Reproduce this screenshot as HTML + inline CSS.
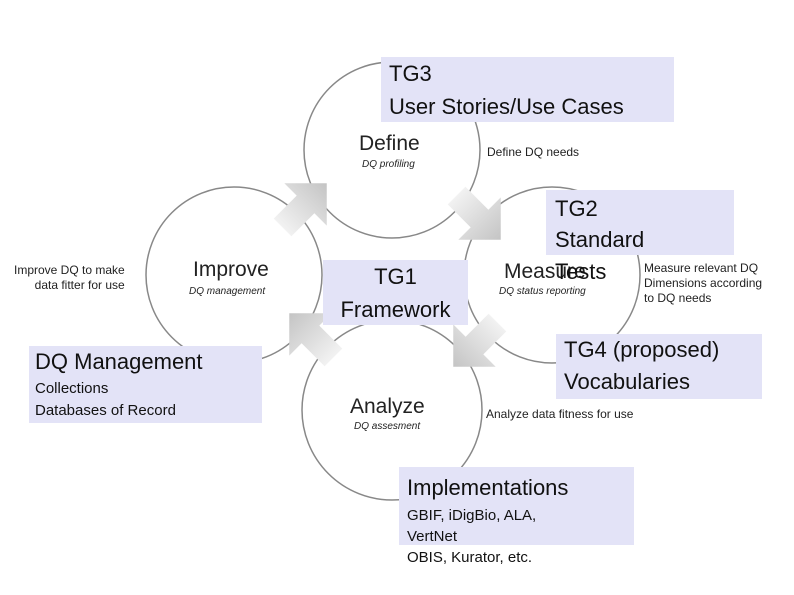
<!DOCTYPE html>
<html><head><meta charset="utf-8"><style>
body{margin:0;width:794px;height:595px;background:#fff;position:relative;overflow:hidden;font-family:"Liberation Sans",Arial,sans-serif}
.b{position:absolute;background:#e3e3f7;color:#111;white-space:nowrap}
.t{position:absolute;white-space:nowrap;color:#222}
</style></head><body>
<svg width="794" height="595" style="position:absolute;left:0;top:0">
<defs><linearGradient id="g" x1="0" y1="0" x2="1" y2="0"><stop offset="0" stop-color="#f2f2f2"/><stop offset="1" stop-color="#c4c4c4"/></linearGradient></defs>
<g fill="none" stroke="#888" stroke-width="1.5">
<circle cx="392" cy="150" r="88"/>
<circle cx="234" cy="275" r="88"/>
<circle cx="552" cy="275" r="88"/>
<circle cx="392" cy="410" r="90"/>
</g>
<g fill="url(#g)">
<path d="M-22,-10 L4,-10 L4,-24 L28,0 L4,24 L4,10 L-22,10 Z" transform="translate(302,208) rotate(-45) scale(1.25)"/>
<path d="M-22,-10 L4,-10 L4,-24 L28,0 L4,24 L4,10 L-22,10 Z" transform="translate(476,215) rotate(45) scale(1.25)"/>
<path d="M-22,-10 L4,-10 L4,-24 L28,0 L4,24 L4,10 L-22,10 Z" transform="translate(478,342) rotate(135) scale(1.25)"/>
<path d="M-22,-10 L4,-10 L4,-24 L28,0 L4,24 L4,10 L-22,10 Z" transform="translate(314,338) rotate(-135) scale(1.25)"/>
</g>
</svg>
<div class="t" style="left:359px;top:132px;font-size:21px">Define</div>
<div class="t" style="left:362px;top:159px;font-size:10px;font-style:italic">DQ profiling</div>
<div class="t" style="left:193px;top:258px;font-size:21px">Improve</div>
<div class="t" style="left:189px;top:286px;font-size:10px;font-style:italic">DQ management</div>
<div class="t" style="left:504px;top:260px;font-size:21px">Measure</div>
<div class="t" style="left:499px;top:286px;font-size:10px;font-style:italic">DQ status reporting</div>
<div class="t" style="left:350px;top:395px;font-size:21px">Analyze</div>
<div class="t" style="left:354px;top:421px;font-size:10px;font-style:italic">DQ assesment</div>
<div class="t" style="left:487px;top:145px;font-size:12px">Define DQ needs</div>
<div class="t" style="left:14px;top:263px;font-size:12px;text-align:right;line-height:15px">Improve DQ to make<br>data fitter for use</div>
<div class="t" style="left:644px;top:261px;font-size:12px;line-height:15px">Measure relevant DQ<br>Dimensions according<br>to DQ needs</div>
<div class="t" style="left:486px;top:407px;font-size:12px">Analyze data fitness for use</div>
<div class="b" style="left:381px;top:57px;width:293px;height:65px;font-size:22px;line-height:33px;padding-left:8px;box-sizing:border-box">TG3<br>User Stories/Use Cases</div>
<div class="b" style="left:546px;top:190px;width:188px;height:65px;font-size:22px;line-height:31px;padding-left:9px;padding-top:3px;box-sizing:border-box">TG2<br>Standard</div>
<div class="t" style="left:555px;top:256px;font-size:22px;color:#111;line-height:31px">Tests</div>
<div class="b" style="left:323px;top:260px;width:145px;height:65px;font-size:22px;line-height:33px;text-align:center">TG1<br>Framework</div>
<div class="b" style="left:556px;top:334px;width:206px;height:65px;font-size:22px;line-height:32px;padding-left:8px;box-sizing:border-box">TG4 (proposed)<br>Vocabularies</div>
<div class="b" style="left:29px;top:346px;width:233px;height:77px;padding-left:6px;box-sizing:border-box"><div style="font-size:22px;line-height:32px">DQ Management</div><div style="font-size:15px;line-height:22px">Collections<br>Databases of Record</div></div>
<div class="b" style="left:399px;top:467px;width:235px;height:78px;padding-left:8px;box-sizing:border-box"><div style="font-size:22px;line-height:42px">Implementations</div></div>
<div class="t" style="left:407px;top:505px;font-size:15px;line-height:21px;color:#111">GBIF, iDigBio, ALA,<br>VertNet<br>OBIS, Kurator, etc.</div>
</body></html>
